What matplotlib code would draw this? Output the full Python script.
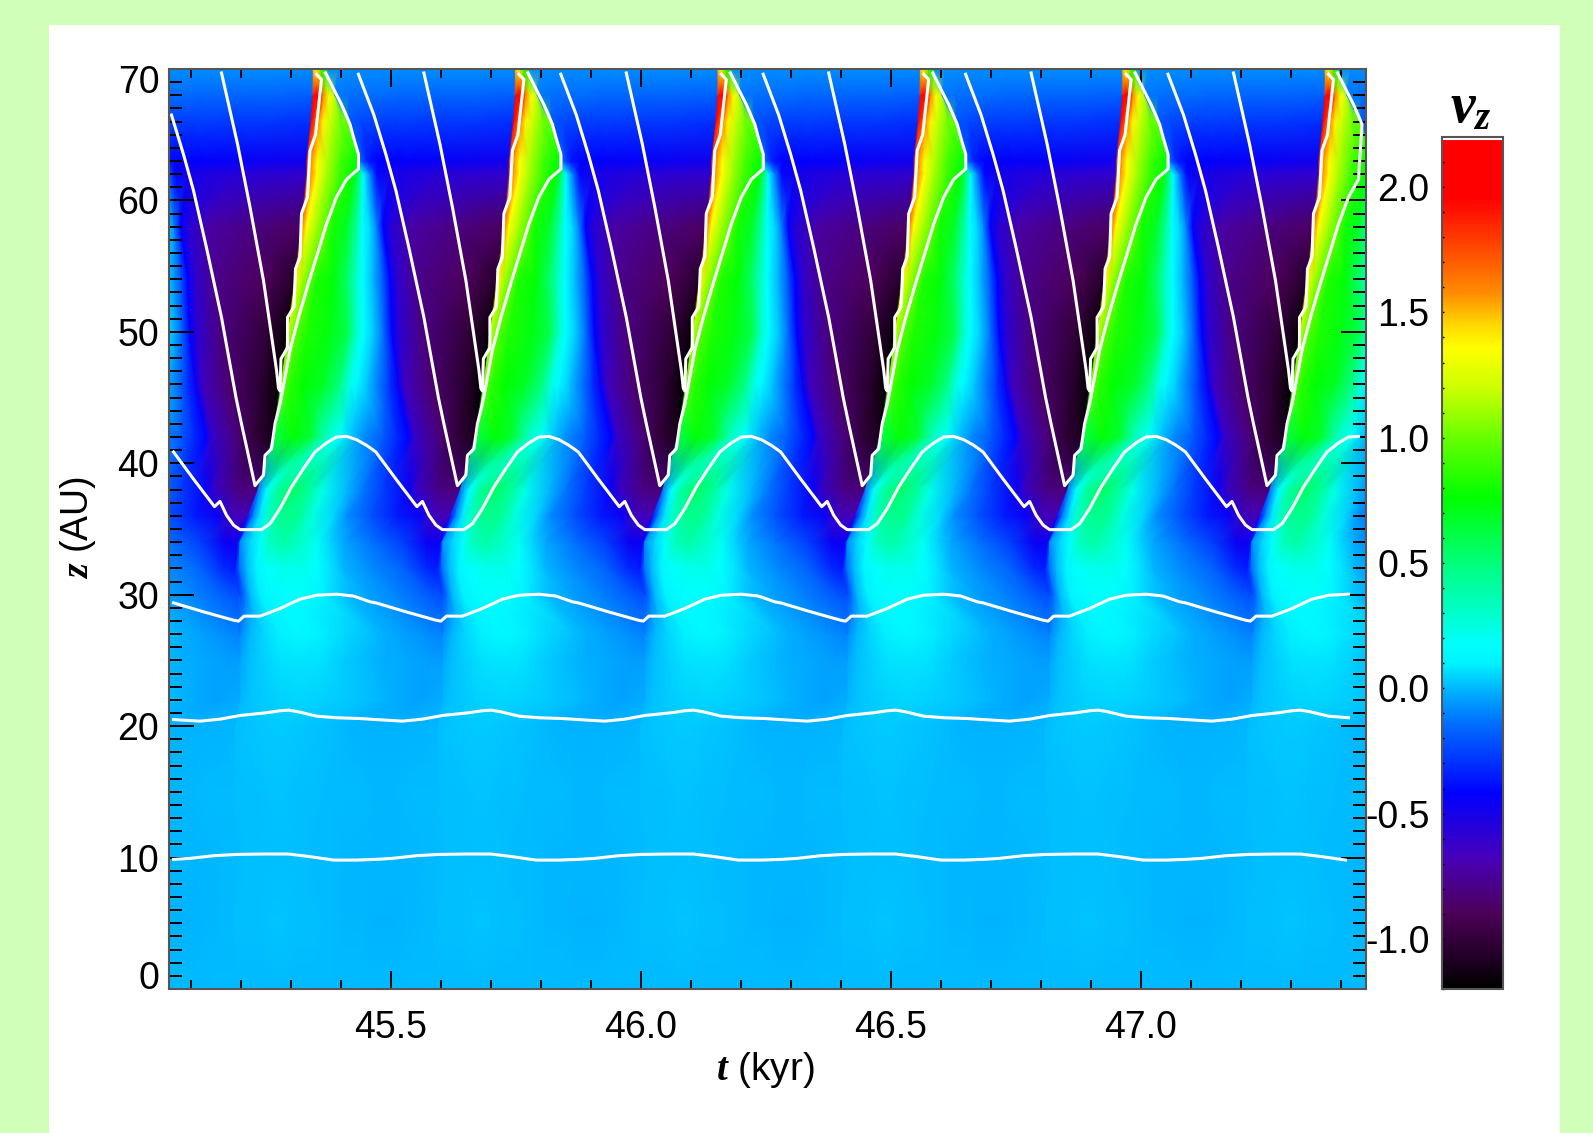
import numpy as np
import matplotlib
matplotlib.use('Agg')
import matplotlib.pyplot as plt
from matplotlib.colors import LinearSegmentedColormap, Normalize
from matplotlib.patches import Rectangle
from matplotlib.ticker import MultipleLocator, FixedLocator
from matplotlib.transforms import ScaledTranslation

plt.rcParams['font.family'] = ['Liberation Sans', 'DejaVu Sans']
plt.rcParams['mathtext.fontset'] = 'custom'
plt.rcParams['mathtext.it'] = 'Liberation Serif:italic:bold'
plt.rcParams['mathtext.rm'] = 'Liberation Sans'

# ---- data -------------------------------------------------------------------
PERIOD = 0.4048   # kyr between two cycles
CYCLES = [-1, 0, 1, 2, 3, 4, 5]

# one cycle of the v_z map: a row per height, knots counted from the shock
Z_ROWS = [0, 5, 10, 15, 20, 22, 25, 27, 30, 32, 34, 36, 38, 42, 46, 50, 54, 58, 62, 63, 66, 68, 70]
SHOCK_T = [45.19, 45.19, 45.19, 45.19, 45.19, 45.2, 45.2, 45.2, 45.2, 45.191, 45.195, 45.215, 45.235,
           45.265, 45.281, 45.295, 45.309, 45.323, 45.333, 45.333, 45.341, 45.345, 45.345]
DT_KNOTS = [
    [0, .02, .04, .07, .10, .13, .16, .19, .22, .25, .28, .31, .35, .4018],
    [0, .02, .04, .07, .10, .13, .16, .19, .22, .25, .28, .31, .35, .4018],
    [0, .02, .04, .07, .10, .13, .16, .19, .22, .25, .28, .31, .35, .4018],
    [0, .02, .04, .07, .10, .13, .16, .19, .22, .25, .28, .31, .35, .4018],
    [0, .02, .04, .07, .10, .13, .16, .19, .22, .25, .28, .31, .35, .4018],
    [0, .017, .043, .077, .12, .16, .21, .26, .29, .31, .33, .36, .38, .4018],
    [0, .017, .043, .077, .12, .16, .21, .26, .29, .31, .33, .36, .38, .4018],
    [0, .017, .043, .077, .12, .16, .21, .26, .29, .31, .33, .36, .38, .4018],
    [0, .008, .018, .038, .058, .09, .125, .165, .205, .258, .311, .36, .383, .4018],
    [0, .006, .02, .04, .06, .093, .133, .16, .187, .213, .267, .333, .38, .4018],
    [0, .003, .023, .043, .063, .09, .13, .157, .183, .21, .263, .33, .377, .4018],
    [0, .01, .023, .037, .063, .097, .13, .17, .197, .243, .297, .343, .37, .4018],
    [0, .007, .017, .037, .07, .103, .13, .177, .21, .25, .30, .317, .361, .4018],
    [0, .04, .073, .107, .133, .153, .18, .22, .247, .27, .283, .331, .365, .4018],
    [0, .017, .043, .083, .117, .137, .15, .17, .217, .233, .247, .30, .37, .4018],
    [0, .017, .037, .083, .117, .137, .15, .17, .19, .207, .222, .265, .357, .4018],
    [0, .015, .042, .075, .102, .122, .135, .155, .175, .189, .205, .242, .345, .4018],
    [0, .008, .028, .061, .088, .108, .121, .135, .148, .161, .175, .215, .30, .4018],
    [0, .019, .039, .065, .092, .102, .112, .125, .139, .165, .20, .25, .32, .4018],
    [0, .019, .039, .065, .092, .102, .105, .12, .14, .165, .20, .25, .32, .4018],
    [0, .013, .023, .037, .057, .075, .077, .10, .13, .17, .20, .25, .32, .4018],
    [0, .013, .02, .03, .041, .043, .07, .10, .14, .18, .22, .27, .33, .4018],
    [0, .008, .016, .024, .027, .05, .08, .11, .14, .18, .22, .27, .33, .4018],
]
VZ_KNOTS = [
    [.003, .003, .004, .004, .004, .003, .003, .002, .002, .002, .002, .002, .003, .003],
    [.01, .012, .015, .018, .018, .015, .01, .005, 0, -.002, -.005, -.005, 0, .005],
    [.008, .012, .015, .015, .012, .01, .006, .002, 0, -.004, -.004, -.002, 0, .004],
    [.01, .012, .015, .018, .018, .015, .012, .008, .005, .003, 0, 0, .003, .005],
    [.01, .02, .025, .03, .03, .025, .02, .01, 0, -.005, -.01, -.01, -.005, 0],
    [0, .02, .035, .045, .05, .045, .035, .01, -.01, -.02, -.03, -.04, -.03, -.02],
    [-.03, .01, .04, .07, .08, .07, .03, 0, -.02, -.02, -.03, -.04, -.05, -.05],
    [-.08, 0, .05, .1, .13, .1, .05, .01, -.02, -.03, -.05, -.07, -.09, -.1],
    [-.22, -.12, 0, .1, .15, .17, .17, .1, .01, -.05, -.1, -.17, -.2, -.23],
    [-.3, -.15, 0, .12, .17, .22, .22, .17, .08, 0, -.08, -.17, -.32, -.35],
    [-.4, -.08, .05, .17, .33, .4, .3, .2, .05, -.03, -.13, -.27, -.45, -.45],
    [-.35, -.1, .08, .3, .45, .46, .25, .05, -.08, -.2, -.35, -.45, -.65, -.68],
    [-.1, 0, .17, .42, .55, .42, .22, 0, -.13, -.27, -.45, -.62, -.8, -.82],
    [.6, .75, .65, .3, .17, .03, -.08, -.2, -.32, -.42, -.62, -.82, -1.0, -1.1],
    [1.0, .85, .76, .68, .48, .22, .15, .03, -.3, -.45, -.65, -.85, -1.05, -1.2],
    [1.15, .95, .83, .72, .6, .3, .17, .03, -.15, -.42, -.58, -.8, -1.0, -1.17],
    [1.38, 1.1, .82, .74, .55, .3, .17, 0, -.2, -.42, -.6, -.78, -.9, -1.05],
    [1.6, 1.36, 1.12, .8, .68, .42, .17, .06, -.1, -.42, -.55, -.72, -.8, -.88],
    [1.7, 1.36, 1.12, .9, .76, .55, .15, -.1, -.4, -.5, -.52, -.55, -.58, -.6],
    [1.75, 1.36, 1.15, .92, .78, .72, -.15, -.35, -.42, -.42, -.43, -.44, -.46, -.48],
    [1.95, 1.6, 1.38, 1.2, 1.02, .98, -.2, -.24, -.26, -.27, -.27, -.28, -.28, -.3],
    [2.0, 2.0, 1.6, 1.35, 1.2, -.12, -.14, -.15, -.15, -.16, -.16, -.17, -.17, -.18],
    [1.4, 1.3, .8, .7, -.08, -.08, -.08, -.08, -.08, -.08, -.08, -.08, -.08, -.08],
]

# white tracks, one cycle each
T_TRACK1 = [45.065, 45.098, 45.145, 45.191, 45.245, 45.295, 45.338, 45.385, 45.431]
Z_TRACK1 = [9.86, 9.94, 10.14, 10.24, 10.27, 10.27, 10.07, 9.81, 9.81]
T_TRACK2 = [45.065, 45.118, 45.158, 45.198, 45.251, 45.278, 45.295, 45.315, 45.351, 45.391, 45.438]
Z_TRACK2 = [20.5, 20.38, 20.53, 20.81, 21.02, 21.17, 21.22, 21.09, 20.76, 20.64, 20.58]
T_TRACK3 = [45.065, 45.125, 45.185, 45.195, 45.206, 45.238, 45.278, 45.318, 45.351, 45.391, 45.425, 45.458]
Z_TRACK3 = [29.38, 28.7, 28.06, 27.99, 28.37, 28.37, 28.95, 29.66, 29.96, 30.04, 29.9, 29.46]
T_TRACK4 = [45.065, 45.105, 45.147, 45.158, 45.171, 45.185, 45.198, 45.241, 45.258, 45.278, 45.301,
            45.325, 45.348, 45.371, 45.391, 45.411, 45.431, 45.451]
Z_TRACK4 = [40.86, 38.8, 36.7, 37.1, 36.05, 35.3, 34.95, 34.95, 35.4, 36.55, 38.2,
            39.6, 40.86, 41.55, 42.0, 42.05, 41.8, 41.37]
T_TRACK5 = [45.030, 45.045, 45.061, 45.085, 45.105, 45.131, 45.161, 45.190, 45.201, 45.228,
            45.245, 45.248, 45.261, 45.268, 45.278, 45.283, 45.298, 45.315, 45.335, 45.355,
            45.371, 45.391, 45.411, 45.435, 45.435, 45.425, 45.418, 45.401, 45.385, 45.369]
Z_TRACK5 = [69.6, 68.1, 66.5, 63.5, 60.75, 56.4, 51.1, 45.0, 43.0, 38.3,
            39.1, 40.6, 41.1, 43.0, 44.5, 45.5, 48.6, 51.1, 53.7, 56.2,
            58.2, 60.25, 61.6, 62.4, 63.5, 64.8, 65.8, 67.3, 68.5, 69.7]
T_TRACK6 = [45.161, 45.193, 45.218, 45.245, 45.271, 45.275, 45.278, 45.280, 45.293, 45.293,
            45.306, 45.309, 45.318, 45.321, 45.333, 45.338, 45.349, 45.355, 45.361, 45.351]
Z_TRACK6 = [69.7, 64.3, 59.5, 53.9, 47.1, 45.7, 45.5, 47.95, 48.8, 51.1,
            51.9, 54.8, 55.7, 59.0, 60.25, 63.8, 65.0, 67.1, 69.2, 69.6]

# colour table of the bar
CBAR_VALUES = [-1.2, -0.9, -0.68, -0.42, -0.15, -0.02, 0.10, 0.17, 0.46, 0.76, 1.0, 1.2, 1.36, 1.45,
               1.58, 1.78, 1.96, 2.2]
CBAR_COLORS = ['#000000', '#4d0059', '#4700b8', '#0000ff', '#006bff', '#00adff', '#00f2ff', '#00ffff',
               '#00ff8c', '#00ff00', '#66ff00', '#ccff00', '#ffff00', '#ffd900',
               '#ff8c00', '#ff4000', '#ff0000', '#ff0000']
CBAR_TICKS = [-1.0, -0.5, 0.0, 0.5, 1.0, 1.5, 2.0]
X_TICKS = [45.5, 46.0, 46.5, 47.0]
Z_TICKS = [0, 10, 20, 30, 40, 50, 60, 70]
T_RANGE = (45.056, 47.45)
TRACK_RANGE = (45.06, 47.445)

W, H = 1593., 1133.


def box(x0, y0, x1, y1):
    # pixel box of the reference to figure fraction
    return [x0 / W, 1 - y1 / H, (x1 - x0) / W, (y1 - y0) / H]


fig = plt.figure(figsize=(W / 100, H / 100), dpi=100, facecolor='#d0ffba')
b = box(49, 25, 1560, 1133)
fig.patches.append(Rectangle((b[0], b[1]), b[2], b[3], transform=fig.transFigure,
                             facecolor='white', edgecolor='none', zorder=-1))

ax = fig.add_axes(box(169, 69, 1366, 989))

# colour map
lo, hi = CBAR_VALUES[0], CBAR_VALUES[-1]
stops = [(v - lo) / (hi - lo) for v in CBAR_VALUES]
cmap = LinearSegmentedColormap.from_list('vz', list(zip(stops, CBAR_COLORS)), N=512)
norm = Normalize(lo, hi)

# the map, cycle after cycle on a warped mesh
shock = np.array(SHOCK_T)[:, None]
dt = np.array(DT_KNOTS)
vz = np.array(VZ_KNOTS)
tgrid = []
vgrid = []
for k in CYCLES:
    tgrid.append(shock + dt + k * PERIOD)
    vgrid.append(vz)
tgrid = np.hstack(tgrid)
vgrid = np.hstack(vgrid)
zgrid = np.repeat(np.array(Z_ROWS, dtype=float)[:, None], tgrid.shape[1], axis=1)
mesh = ax.pcolormesh(tgrid, zgrid, vgrid, cmap=cmap, norm=norm, shading='gouraud')

# white tracks
for (tt, zz) in [(T_TRACK1, Z_TRACK1), (T_TRACK2, Z_TRACK2), (T_TRACK3, Z_TRACK3), (T_TRACK4, Z_TRACK4)]:
    tall = np.concatenate([np.array(tt) + k * PERIOD for k in CYCLES])
    zall = np.concatenate([zz for k in CYCLES])
    keep = (tall >= TRACK_RANGE[0]) & (tall <= TRACK_RANGE[1])
    ax.plot(tall[keep], zall[keep], color='white', lw=2.2)

for (tt, zz) in [(T_TRACK5, Z_TRACK5), (T_TRACK6, Z_TRACK6)]:
    for k in CYCLES:
        tall = np.array(tt) + k * PERIOD
        zall = np.array(zz)
        keep = (tall >= TRACK_RANGE[0]) & (tall <= TRACK_RANGE[1])
        ax.plot(tall[keep], zall[keep], color='white', lw=2.2, solid_joinstyle='round')

ax.set_xlim(T_RANGE)
ax.set_ylim(0, 70)
ax.xaxis.set_major_locator(FixedLocator(X_TICKS))
ax.xaxis.set_minor_locator(MultipleLocator(0.1))
ax.yaxis.set_major_locator(FixedLocator(Z_TICKS))
ax.yaxis.set_minor_locator(MultipleLocator(1))
ax.set_xticklabels(['%.1f' % v for v in X_TICKS])
ax.set_yticklabels(['%d' % v for v in Z_TICKS])
ax.tick_params(axis='x', which='major', direction='in', top=True, bottom=True, length=13, width=1.4,
               labelsize=27, pad=15)
ax.tick_params(axis='x', which='minor', direction='in', top=True, bottom=True, length=6.5, width=1.4)
ax.tick_params(axis='y', which='major', direction='in', left=True, right=True, length=18, width=1.4,
               labelsize=27, pad=7)
ax.tick_params(axis='y', which='minor', direction='in', left=True, right=True, length=9.4, width=1.4)
ylabels = ax.get_yticklabels()
ylabels[0].set_va('baseline')
ylabels[-1].set_va('top')
ylabels[-1].set_transform(ylabels[-1].get_transform() + ScaledTranslation(0, 3 / 72., fig.dpi_scale_trans))
for s in ax.spines.values():
    s.set_color('#555555')
    s.set_linewidth(1.5)

fig.text(765 / W, 1 - 1080 / H, r'$t$ (kyr)', fontsize=28, ha='center', va='baseline')
fig.text(78 / W, 1 - 528 / H, r'$z$ (AU)', fontsize=27, ha='center', va='center', rotation=90)

# colour bar
cax = fig.add_axes(box(1442, 137, 1503, 989))
cb = fig.colorbar(mesh, cax=cax, orientation='vertical', ticks=CBAR_TICKS)
cb.ax.yaxis.set_ticks_position('left')
cb.ax.yaxis.set_label_position('left')
cb.set_ticklabels(['%.1f' % v for v in CBAR_TICKS])
cb.ax.yaxis.set_minor_locator(MultipleLocator(0.1))
cb.ax.tick_params(which='major', direction='in', length=1.5, width=1, labelsize=27, pad=9)
cb.ax.tick_params(which='minor', direction='in', length=1.5, width=1)
cb.ax.axhline(hi - 0.006, color='white', lw=1.5)
cb.outline.set_edgecolor('#555555')
cb.outline.set_linewidth(1.5)

fig.text(1471 / W, 1 - 122 / H, r'$v_z$', fontsize=40, ha='center', va='baseline')

fig.savefig('out.png', dpi=100, facecolor=fig.get_facecolor())
plt.close(fig)
